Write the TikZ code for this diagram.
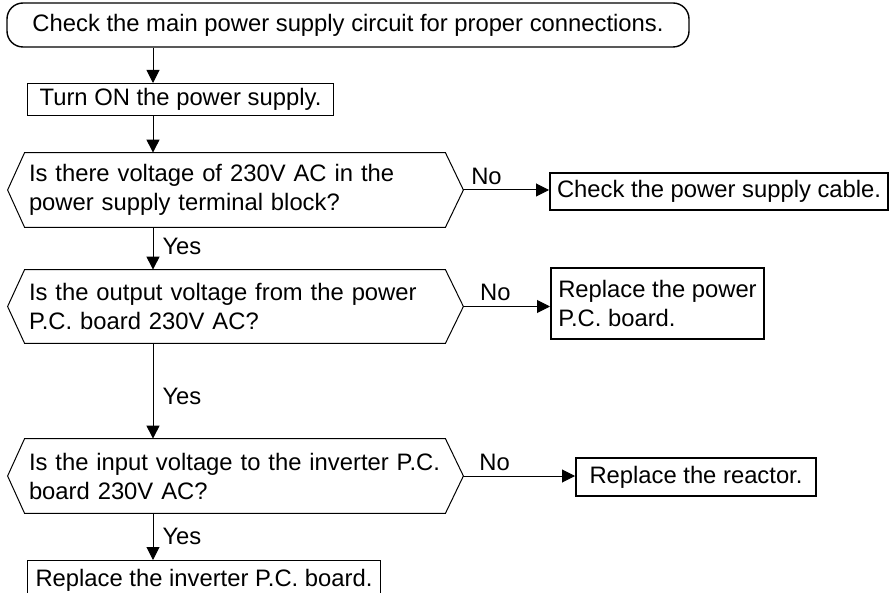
\documentclass[tikz,border=0pt]{standalone}
\usepackage{fontspec}
\setmainfont{Liberation Sans}
\usetikzlibrary{arrows.meta}
\tikzset{
  every node/.style={font=\fontsize{11.9}{14.5}\selectfont},
  box/.style={draw, line width=0.5pt, anchor=north west, align=left, inner xsep=3.5pt, inner ysep=0pt},
  thickbox/.style={box, line width=1pt},
  quest/.style={align=left, inner xsep=2pt, inner ysep=0pt, minimum width=210pt, text width=206pt},
  flow/.style={-{Triangle[length=6.5pt,width=6.5pt]}, line width=0.5pt},
  yeslbl/.style={right, inner sep=4.5pt},
  nolbl/.style={above, inner sep=2.5pt}
}
\begin{document}
\begin{tikzpicture}[x=0.5pt, y=-0.5pt]
\useasboundingbox (0,0) rectangle (889,593);
% main column
\coordinate (spine) at (153,0);
\node[draw, line width=0.7pt, rounded corners=8pt, minimum width=341pt, minimum height=22pt] (start) at (348,25) {Check the main power supply circuit for proper connections.};
\node[box, minimum width=153pt, minimum height=16pt] (turn) at (27,83) {Turn ON the power supply.};
\node[quest, minimum height=37pt] (qa) at (235,190) {Is there voltage of 230V AC in the\\power supply terminal block?};
\node[quest, minimum height=36.5pt] (qb) at (235,306.5) {Is the output voltage from the power\\P.C. board 230V AC?};
\node[quest, minimum height=37pt] (qc) at (235,476) {Is the input voltage to the inverter P.C.\\board 230V AC?};
\node[box, minimum width=176.5pt, minimum height=20pt] (fin) at (27,560) {Replace the inverter P.C. board.};
% hexagons round the questions
\foreach \q in {qa,qb,qc} {
  \draw[line width=0.5pt] (\q.north west) -- ([xshift=-8.5pt]\q.west) -- (\q.south west) -- (\q.south east) -- ([xshift=9pt]\q.east) -- (\q.north east) -- cycle;
  \coordinate (\q-tip) at ([xshift=9pt]\q.east);
}
% side boxes
\node[thickbox, minimum width=169pt, minimum height=18.5pt] (cbl) at (549,172) {Check the power supply cable.};
\node[thickbox, minimum width=106.5pt, minimum height=35.5pt] (rpb) at (550,267) {Replace the power\\P.C. board.};
\node[thickbox, minimum width=120pt, minimum height=19pt] (rct) at (575,457) {Replace the reactor.};
% connectors
\draw[flow] (start.south -| spine) -- (turn.north -| spine);
\draw[flow] (turn.south -| spine) -- (qa.north -| spine);
\draw[flow] (qa.south -| spine) -- node[yeslbl, pos=.45] {Yes} (qb.north -| spine);
\draw[flow] (qb.south -| spine) -- node[yeslbl, pos=.56] {Yes} (qc.north -| spine);
\draw[flow] (qc.south -| spine) -- node[yeslbl, pos=.5] {Yes} (fin.north -| spine);
\draw[flow] (qa-tip) -- node[nolbl, pos=.27] {No} (qa-tip -| cbl.west);
\draw[flow] (qb-tip) -- node[nolbl, pos=.37] {No} (qb-tip -| rpb.west);
\draw[flow] (qc-tip) -- node[nolbl, pos=.28] {No} (qc-tip -| rct.west);
\end{tikzpicture}
\end{document}
